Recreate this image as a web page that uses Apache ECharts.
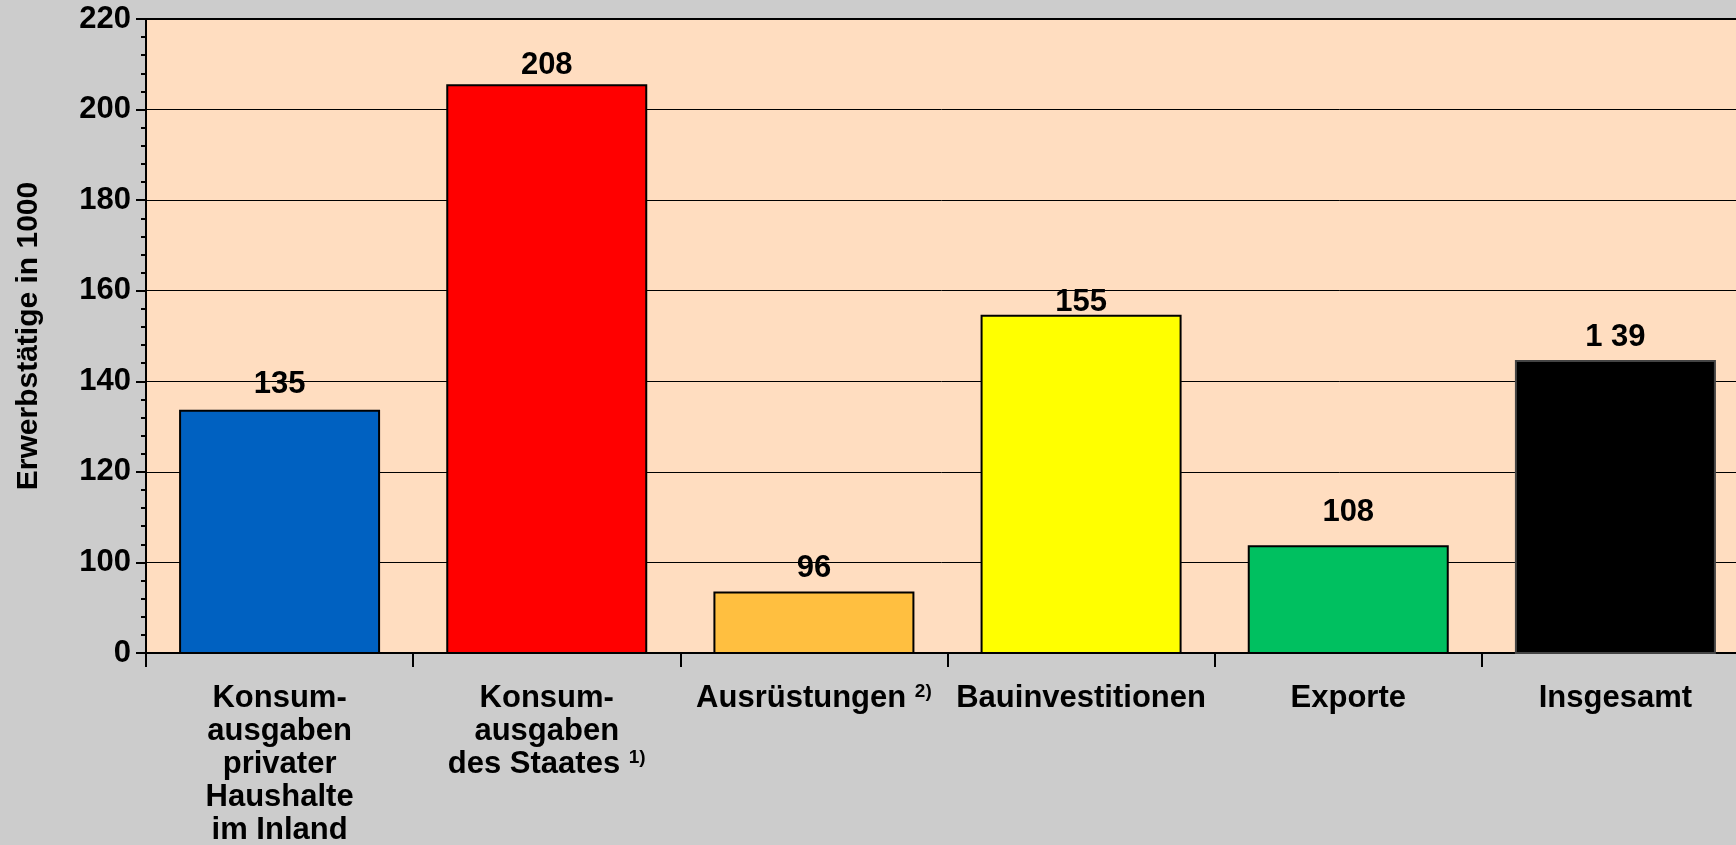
<!DOCTYPE html>
<html>
<head>
<meta charset="utf-8">
<script src="https://cdn.jsdelivr.net/npm/echarts@6/dist/echarts.min.js"></script>
<style>
html, body { margin: 0; padding: 0; background: #cccccc; }
#chart { width: 1736px; height: 845px; }
</style>
</head>
<body>
<div id="chart"></div>
<script>
// Kategorien (x-Achse)
var categories = [
    'Konsum-\nausgaben\nprivater\nHaushalte\nim Inland',
    'Konsum-\nausgaben\ndes Staates {sup|1)}',
    'Ausrüstungen {sup|2)}',
    'Bauinvestitionen',
    'Exporte',
    'Insgesamt'
];
var barValues = [133.7, 205.6, 68, 154.7, 103.8, 144.7];
// Beschriftungen über den Balken
var valueLabels = ['135', '208', '96', '155', '108', '1 39'];
var barColors = ['#0061c1', '#ff0000', '#ffbf40', '#ffff00', '#00c060', '#000000'];

// Achsenbruch: 0..100 wird auf einen 20er-Schritt gestaucht
function toAxis(v) {
    return v < 100 ? 80 + v * 0.2 : v;
}

var font = "'Liberation Sans', Arial, sans-serif";
var labelDist = [10, 3, 7, -3, 17, 7];

var seriesData = barValues.map(function (v, i) {
    return {
        value: toAxis(v),
        itemStyle: {
            color: barColors[i],
            borderColor: i === 5 ? '#444' : '#000'
        },
        label: { distance: labelDist[i] }
    };
});

var myChart = echarts.init(document.getElementById('chart'));

var option = {
    backgroundColor: '#cccccc',
    animation: false,
    grid: {
        left: 146,
        top: 19,
        width: 1603,
        height: 634,
        outerBoundsMode: 'none',
        containLabel: false,
        show: true,
        backgroundColor: '#ffddc0',
        borderColor: '#000',
        borderWidth: 2
    },
    xAxis: {
        type: 'category',
        data: categories,
        axisLine: { lineStyle: { color: '#000', width: 2 } },
        axisTick: { show: true, length: 14, lineStyle: { color: '#000', width: 2 } },
        axisLabel: {
            interval: 0,
            margin: 29,
            color: '#000',
            fontFamily: font,
            fontWeight: 'bold',
            fontSize: 31,
            lineHeight: 33,
            rich: {
                sup: {
                    fontFamily: font,
                    fontWeight: 'bold',
                    fontSize: 19,
                    lineHeight: 22,
                    verticalAlign: 'top',
                    color: '#000'
                }
            }
        }
    },
    yAxis: {
        type: 'value',
        min: 80,
        max: 220,
        interval: 20,
        name: 'Erwerbstätige in 1000',
        nameLocation: 'middle',
        nameGap: 102,
        nameTextStyle: {
            color: '#000',
            fontFamily: font,
            fontWeight: 'bold',
            fontSize: 30
        },
        axisLine: { show: true, lineStyle: { color: '#000', width: 2 } },
        axisTick: { show: true, length: 10, lineStyle: { color: '#000', width: 2 } },
        minorTick: { show: true, splitNumber: 5, length: 5, lineStyle: { color: '#000', width: 2 } },
        splitLine: { show: true, lineStyle: { color: '#000', width: 1 } },
        axisLabel: {
            margin: 15,
            color: '#000',
            fontFamily: font,
            fontWeight: 'bold',
            fontSize: 31,
            formatter: function (v) {
                return v === 80 ? '0' : String(v);
            }
        }
    },
    series: [{
        type: 'bar',
        data: seriesData,
        barWidth: 201,
        itemStyle: { borderWidth: 2 },
        label: {
            show: true,
            position: 'top',
            color: '#000',
            fontFamily: font,
            fontWeight: 'bold',
            fontSize: 31,
            formatter: function (p) {
                return valueLabels[p.dataIndex];
            }
        }
    }]
};

myChart.setOption(option);
</script>
</body>
</html>
